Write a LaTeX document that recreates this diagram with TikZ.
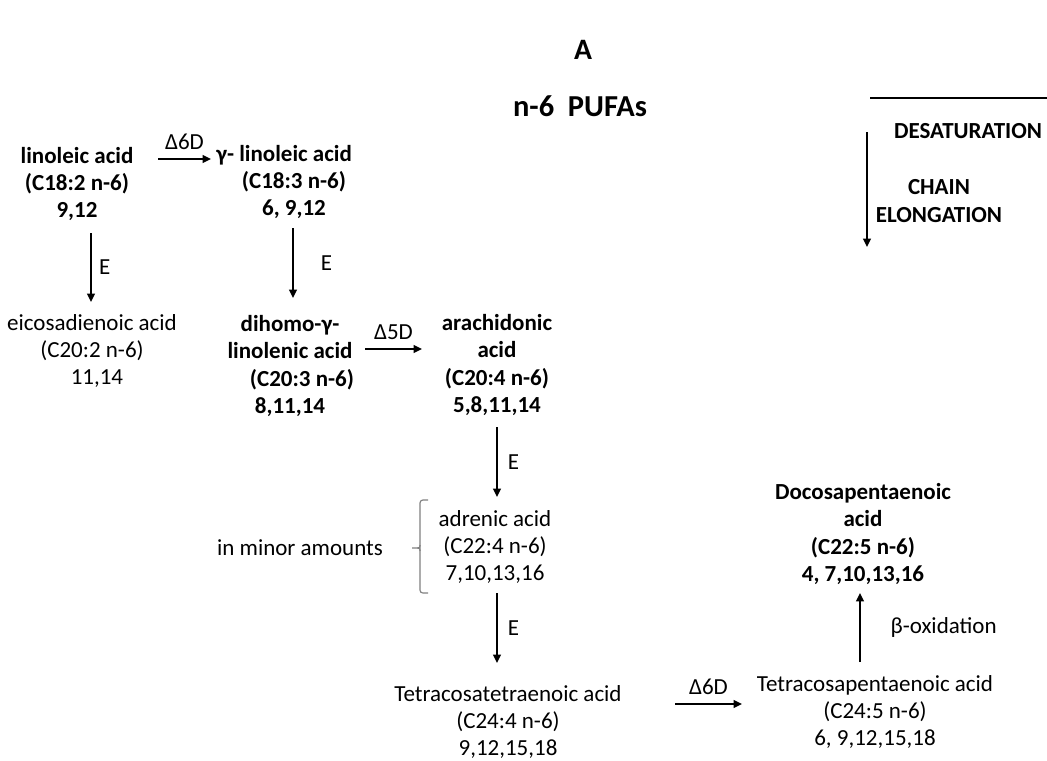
\documentclass[tikz,border=0pt]{standalone}
\usepackage{fontspec}
\setmainfont{Carlito}
\usetikzlibrary{arrows.meta}
\tikzset{
  acid/.style={align=center, inner sep=1pt, font=\fontsize{16.3}{19.3}\selectfont},
  acidb/.style={acid, font=\fontsize{16.3}{19.3}\selectfont\bfseries},
  lbl/.style={inner sep=1pt, font=\fontsize{16.3}{19.3}\selectfont},
  arr/.style={line width=1.4pt, -{Triangle[length=6pt,width=5.5pt]}}
}
\begin{document}
\begin{tikzpicture}[x=0.709pt,y=-0.709pt]
\useasboundingbox (0,0) rectangle (1047,760);
\node (tA) at (583,50) [font=\fontsize{21}{24}\selectfont\bfseries] {A};
\node (tpufa) at (580,106) [font=\fontsize{21.6}{24}\selectfont\bfseries] {n-6\ \ PUFAs};
\coordinate (desL) at (870,98);
\coordinate (desR) at (1060,98);
\begin{scope}
\clip (0,0) rectangle (1047,760);
\draw[arr] (desL) -- (desR);
\end{scope}
\node (desat) at (968,131) [acidb] {DESATURATION};
\coordinate (chT) at (867,132);
\coordinate (chB) at (867,247);
\draw[arr] (chT) -- (chB);
\node (chain) at (939,201) [acidb] {CHAIN\\ELONGATION};
\node (lin) at (77,184) [acidb] {linoleic acid\\(C18:2 n-6)\\9,12};
\node (gam) at (294,182) [acidb] {\hspace*{-14pt}γ- linoleic acid\\(C18:3 n-6)\\6, 9,12};
\node (eic) at (92,351) [acid] {eicosadienoic acid\\(C20:2 n-6)\\\hspace*{7pt}11,14};
\node (dih) at (290,366) [acidb] {dihomo-γ-\\linolenic acid\\\hspace*{17pt}(C20:3 n-6)\\8,11,14};
\node (ara) at (497,365) [acidb] {arachidonic\\acid\\(C20:4 n-6)\\5,8,11,14};
\node (adr) at (495,547) [acid] {adrenic acid\\(C22:4 n-6)\\7,10,13,16};
\node (minor) at (300,548) [lbl] {in minor amounts};
\node (tet) at (508,722) [acid] {Tetracosatetraenoic acid\\(C24:4 n-6)\\9,12,15,18};
\node (pen) at (875,712) [acid] {Tetracosapentaenoic acid\\(C24:5 n-6)\\6, 9,12,15,18};
\node (doc) at (863,534) [acidb] {Docosapentaenoic\\acid\\(C22:5 n-6)\\4, 7,10,13,16};
\draw[arr] ([shift={(81,-25)}]lin.center) -- ([shift={(-83,-23)}]gam.center) node[midway, above=5pt, lbl] {Δ6D};
\draw[arr] ([shift={(14,49)}]lin.center) -- ([shift={(-1,-49)}]eic.center) node[midway, right=4pt, lbl] {E};
\draw[arr] ([shift={(-1,46)}]gam.center) -- ([shift={(3,-68)}]dih.center) node[midway, right=18pt, lbl] {E};
\draw[arr] ([shift={(75,-17)}]dih.center) -- ([shift={(-75,-16)}]ara.center) node[midway, above=5pt, lbl] {Δ5D};
\draw[arr] ([shift={(0,62)}]ara.center) -- ([shift={(2,-50)}]adr.center) node[midway, right=6pt, lbl] {E};
\draw[arr] ([shift={(2,46)}]adr.center) -- ([shift={(-11,-59)}]tet.center) node[midway, right=6pt, lbl] {E};
\draw[arr] ([shift={(167,-18)}]tet.center) -- ([shift={(-133,-8)}]pen.center) node[midway, above=5pt, lbl] {Δ6D};
\draw[arr] ([shift={(-15,-50)}]pen.center) -- ([shift={(-3,59)}]doc.center) node[midway, right=20pt, lbl] {β-oxidation};
\draw[gray, line width=0.8pt, rounded corners=2pt] (428,500) -- (420,500) -- (420,593) -- (428,593);
\draw[gray, line width=0.8pt] (420,545) .. controls (420,548) .. (412,548) (412,548) .. controls (420,548) .. (420,551);
\end{tikzpicture}
\end{document}
